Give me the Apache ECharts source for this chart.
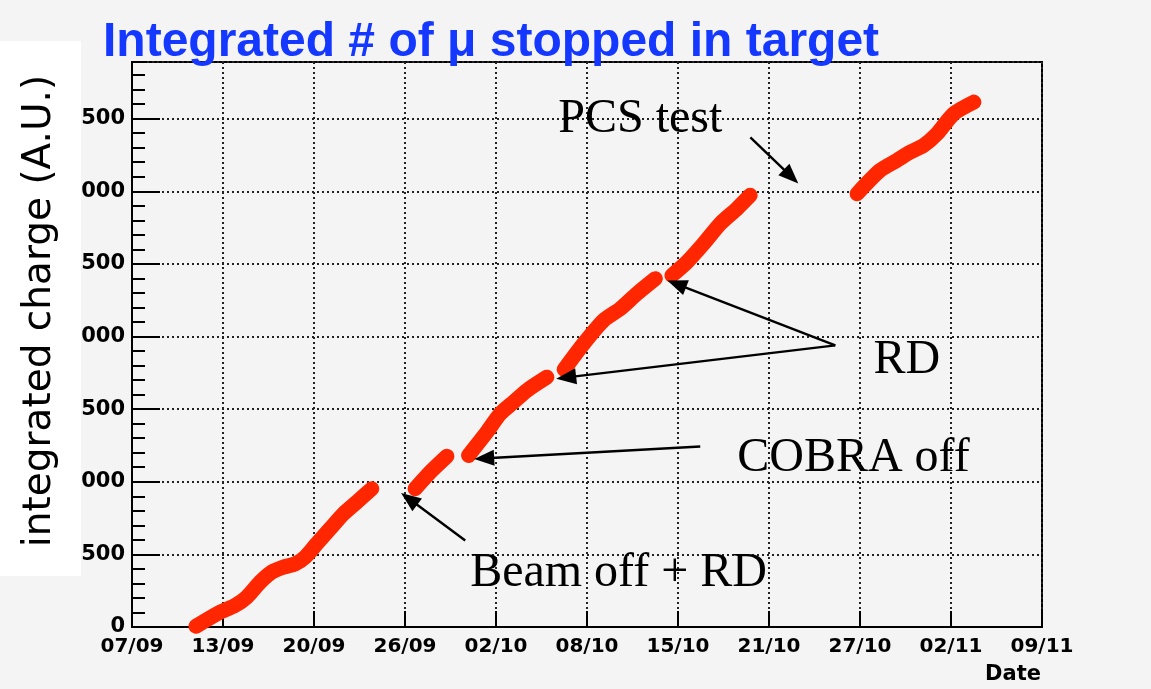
<!DOCTYPE html>
<html>
<head>
<meta charset="utf-8">
<title>Integrated # of μ stopped in target</title>
<script src="https://cdn.jsdelivr.net/npm/echarts@6/dist/echarts.min.js"></script>
<style>
  html, body { margin: 0; padding: 0; background: #f4f4f4; }
  #chart { width: 1151px; height: 689px; }
</style>
</head>
<body>
<div id="chart"></div>
<script>
// Days elapsed since 07/09 00:00; a null charge breaks the curve (beam / magnet off periods)
const runDays = [
  4.43, 6.1, 7.13, 7.94, 8.87, 9.67, 10.48, 11.29, 11.98, 12.79, 13.71, 14.64, 15.56, 16.6,
  18.0,
  19.6, 20.64, 21.8,
  22.5,
  23.3, 24.57, 25.49, 26.41, 27.34, 28.72,
  29.3,
  29.92, 31.26, 32.65, 33.8, 34.96, 36.23,
  36.8,
  37.38, 38.42, 39.57, 40.73, 41.88, 42.8,
  46.0,
  50.2, 51.8, 52.96, 53.89, 54.81, 55.74, 56.89, 58.28
];
// Integrated charge (A.U.)
const integratedCharge = [
  5, 102, 148, 205, 309, 378, 412, 435, 481, 573, 676, 780, 860, 952,
  null,
  952, 1066, 1176,
  null,
  1181, 1342, 1468, 1548, 1629, 1720,
  null,
  1773, 1950, 2111, 2191, 2295, 2398,
  null,
  2421, 2512, 2639, 2777, 2880, 2972,
  null,
  2983, 3144, 3213, 3270, 3316, 3397, 3534, 3614
];
// Date axis: 10 divisions of 6.3 days from 07/09 to 09/11
const dateTickLabels = ['07/09', '13/09', '20/09', '26/09', '02/10', '08/10', '15/10', '21/10', '27/10', '02/11', '09/11'];
const dayTickStep = 6.3;
const dateSpanDays = 63;
const chargeMax = 3890;

// Annotations: text anchor (left, middle) and arrows (tail -> tip), all in [day, charge]
const noteTexts = ['PCS test', 'RD', 'COBRA off', 'Beam off + RD'];
const noteAnchors = [[29.51, 3495], [51.33, 1835], [41.90, 1160], [23.41, 368]];
const arrowTails = [[42.81, 3371], [48.69, 1939], [48.69, 1939], [39.34, 1243], [23.07, 596]];
const arrowTips  = [[46.13, 3054], [37.06, 2386], [29.37, 1710], [23.69, 1157], [18.63, 923]];

const seriesData = runDays.map((d, i) => [d, integratedCharge[i]]);

const AXIS_FONT = '"DejaVu Sans", sans-serif';
const GRID_DOTS = { color: '#222', width: 2, type: [2, 3] };
const chart = echarts.init(document.getElementById('chart'), null, { renderer: 'canvas' });

chart.setOption({
  animation: false,
  backgroundColor: '#f4f4f4',
  grid: {
    left: 132, right: 109, top: 62, bottom: 62,
    show: true, borderColor: '#000', borderWidth: 2, backgroundColor: 'transparent'
  },
  xAxis: {
    type: 'value',
    min: 0, max: dateSpanDays, interval: dayTickStep,
    axisLine: { lineStyle: { color: '#000', width: 2 } },
    axisTick: { inside: true, length: 16, lineStyle: { color: '#000', width: 2 } },
    axisLabel: {
      formatter: v => dateTickLabels[Math.round(v / dayTickStep)] || '',
      fontFamily: AXIS_FONT, fontWeight: 'bold', fontSize: 20, color: '#000', margin: 10
    },
    splitLine: { show: true, lineStyle: GRID_DOTS }
  },
  yAxis: [
    {
      type: 'value',
      min: 0, max: chargeMax, interval: 500,
      axisLine: { show: true, lineStyle: { color: '#000', width: 2 } },
      axisTick: { show: true, inside: true, length: 28, lineStyle: { color: '#000', width: 2 } },
      axisLabel: {
        showMaxLabel: false,
        fontFamily: AXIS_FONT, fontWeight: 'bold', fontSize: 21, color: '#000', margin: 7
      },
      splitLine: { show: true, lineStyle: GRID_DOTS }
    },
    {
      // fine ticks every 100
      type: 'value',
      position: 'left',
      min: 0, max: chargeMax, interval: 100,
      axisLine: { show: false },
      axisTick: { show: true, inside: true, length: 13, lineStyle: { color: '#000', width: 2 } },
      axisLabel: { show: false },
      splitLine: { show: false }
    }
  ],
  series: [{
    type: 'line',
    data: seriesData,
    yAxisIndex: 0,
    showSymbol: false,
    connectNulls: false,
    smooth: 0.25,
    silent: true,
    lineStyle: { color: '#ff2600', width: 15, cap: 'round', join: 'round' }
  }]
});

const toPx = p => chart.convertToPixel({ xAxisIndex: 0, yAxisIndex: 0 }, p);

function arrowElements(tail, tip) {
  const s = toPx(tail), t = toPx(tip);
  const dx = t[0] - s[0], dy = t[1] - s[1];
  const len = Math.hypot(dx, dy);
  const ux = dx / len, uy = dy / len;
  const nx = -uy, ny = ux;
  const headLen = 20, headHalf = 8;
  const bx = t[0] - ux * headLen, by = t[1] - uy * headLen;
  return [
    {
      type: 'line', z: 100,
      shape: { x1: s[0], y1: s[1], x2: bx + ux * 3, y2: by + uy * 3 },
      style: { stroke: '#000', lineWidth: 2.4 }
    },
    {
      type: 'polygon', z: 100,
      shape: { points: [[t[0], t[1]], [bx + nx * headHalf, by + ny * headHalf], [bx - nx * headHalf, by - ny * headHalf]] },
      style: { fill: '#000' }
    }
  ];
}

const graphics = [
  // white panel holding the vertical axis title
  { type: 'rect', z: 100, shape: { x: 0, y: 41, width: 81, height: 535 }, style: { fill: '#ffffff' } },
  {
    type: 'text', z: 101, x: 40, y: 311, rotation: Math.PI / 2,
    style: {
      text: 'integrated charge (A.U.)', font: '39px "DejaVu Sans"', fill: '#000',
      textAlign: 'center', textVerticalAlign: 'middle', align: 'center', verticalAlign: 'middle'
    }
  },
  {
    type: 'text', z: 101, x: 103, y: 43,
    style: {
      text: 'Integrated # of μ stopped in target', font: 'bold 48px "Liberation Sans"', fill: '#1438ff',
      textAlign: 'left', textVerticalAlign: 'middle', align: 'left', verticalAlign: 'middle'
    }
  },
  {
    type: 'text', z: 101, x: 1041, y: 675,
    style: {
      text: 'Date', font: 'bold 21px "DejaVu Sans"', fill: '#000',
      textAlign: 'right', textVerticalAlign: 'middle', align: 'right', verticalAlign: 'middle'
    }
  }
];

noteTexts.forEach((txt, i) => {
  const p = toPx(noteAnchors[i]);
  graphics.push({
    type: 'text', z: 101, x: p[0], y: p[1],
    style: {
      text: txt, font: '48px "Liberation Serif"', fill: '#000',
      textAlign: 'left', textVerticalAlign: 'middle', align: 'left', verticalAlign: 'middle'
    }
  });
});
arrowTails.forEach((tail, i) => graphics.push(...arrowElements(tail, arrowTips[i])));

chart.setOption({ graphic: { elements: graphics } });
</script>
</body>
</html>
